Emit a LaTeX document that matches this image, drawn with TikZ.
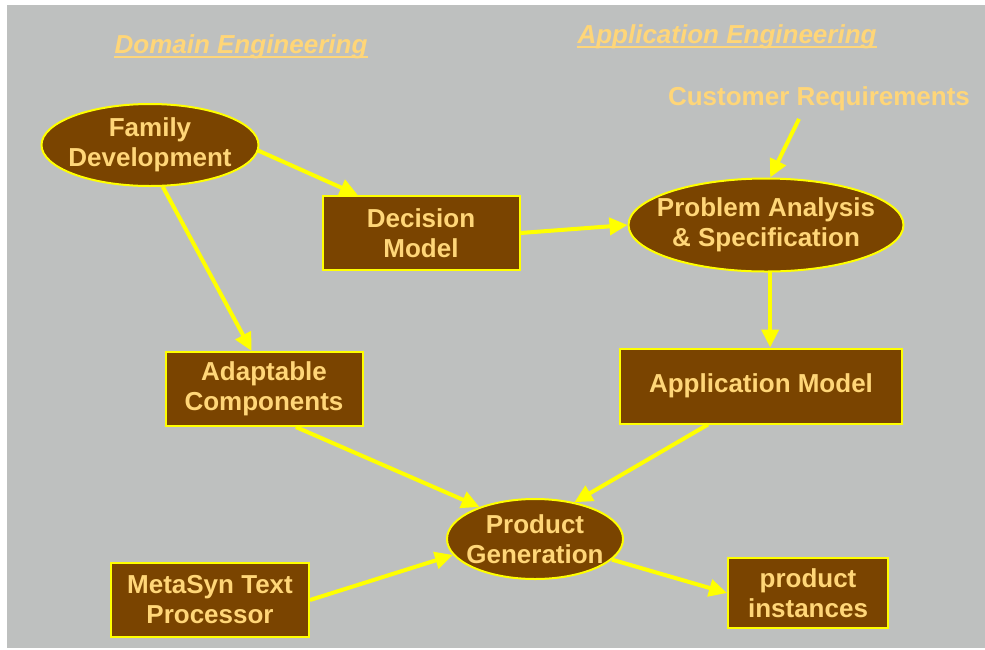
\documentclass[tikz,border=0pt]{standalone}
\usepackage{fontspec}
\setmainfont{Liberation Sans}
\usepackage{tikz}
\usetikzlibrary{arrows.meta, shapes}
\usepackage{xcolor}
\definecolor{slidegray}{RGB}{190,192,191}
\definecolor{slidebrown}{RGB}{122,68,0}
\definecolor{labelgold}{RGB}{255,214,120}
\definecolor{lineyellow}{RGB}{255,255,0}
\newcommand\slidefont{\fontsize{26}{30}\selectfont\bfseries}
\tikzset{procellipse/.style={ellipse, fill=slidebrown, draw=lineyellow, line width=2pt, text=labelgold, font=\slidefont, align=center, inner xsep=-14pt, inner ysep=-2pt},
procbox/.style={rectangle, fill=slidebrown, draw=lineyellow, line width=2pt, text=labelgold, font=\slidefont, align=center, inner sep=0pt},
flowarrow/.style={draw=lineyellow, line width=4pt, -{Triangle[length=18pt, width=17pt]}},
headingtext/.style={text=labelgold, font=\slidefont\itshape, inner sep=0pt},
headline/.style={draw=labelgold, line width=1.5pt}}

\begin{document}
\begin{tikzpicture}[x=1pt, y=-1pt]
                \useasboundingbox (0,0) rectangle (985,649);
                \fill[white] (0,0) rectangle (985,649);
                \fill[slidegray] (7,5) rectangle (985,648);

                % Headings
                \node[headingtext, anchor=base] (dom) at (241,53) {Domain Engineering};
                \node[headingtext, anchor=base] (app) at (727,43) {Application Engineering};
                \draw[headline] ([yshift=-4pt]dom.base west) -- ([yshift=-4pt]dom.base east);
                \draw[headline] ([yshift=-4pt]app.base west) -- ([yshift=-4pt]app.base east);
                \node[text=labelgold, font=\slidefont, anchor=base] (cust) at (819,105) {Customer Requirements};

                % Nodes
                \node[procellipse, minimum width=217pt, minimum height=82pt] (fam) at (150,145) {Family\\Development};
                \node[procbox, minimum width=197pt, minimum height=74pt] (dec) at (421,233) {Decision\\Model};
                \node[procellipse, minimum width=275pt, minimum height=93pt] (prob) at (766,225) {Problem Analysis\\\& Specification};
                \node[procbox, minimum width=197pt, minimum height=74pt] (ada) at (264,389) {Adaptable\\Components};
                \node[procbox, minimum width=282pt, minimum height=75pt] (appm) at (761,386) {Application Model};
                \node[procellipse, minimum width=176pt, minimum height=80pt] (pg) at (535,539) {Product\\Generation};
                \node[procbox, minimum width=198pt, minimum height=74pt] (meta) at (210,600) {MetaSyn Text\\Processor};
                \node[procbox, minimum width=160pt, minimum height=70pt] (inst) at (808,593) {product\\instances};

                % Arrows
                \draw[flowarrow] (fam.-3) -- (dec.149);
                \draw[flowarrow] (fam.-73) -- (ada.108);
                \draw[flowarrow] (dec.east) -- (prob.west);
                \draw[flowarrow] ([xshift=-20pt, yshift=-5pt]cust.south) -- (prob.85);
                \draw[flowarrow] (prob.-85) -- (prob.-85 |- appm.north);
                \draw[flowarrow] (ada.-50) -- (pg.150);
                \draw[flowarrow] (appm.-144) -- (pg.43);
                \draw[flowarrow] (meta.east) -- (pg.191);
                \draw[flowarrow] (pg.-15) -- (inst.west);
            \end{tikzpicture}
\end{document}
